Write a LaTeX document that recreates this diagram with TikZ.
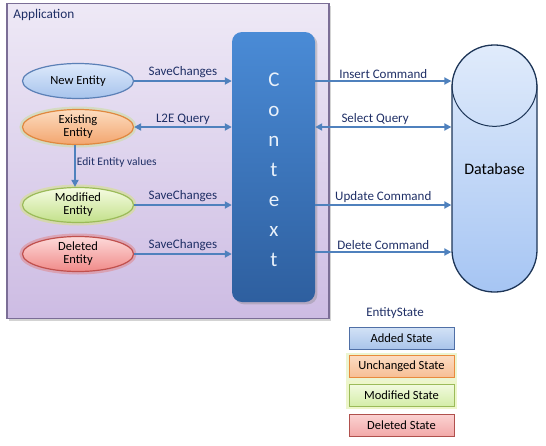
\documentclass[tikz,border=0pt]{standalone}
\usepackage{fontspec}
\setmainfont{Carlito}
\usetikzlibrary{arrows.meta,shapes.geometric,positioning,shadows}

\definecolor{arrowblue}{HTML}{4F81BD}
\definecolor{labelnavy}{HTML}{1F2F66}
\definecolor{appline}{HTML}{7B6E96}
\definecolor{apptop}{HTML}{EEE9F6}
\definecolor{appbot}{HTML}{CDBCE3}
\definecolor{ctxtop}{HTML}{4A8BD6}
\definecolor{ctxbot}{HTML}{2E5F9F}
\definecolor{dbtop}{HTML}{E0EBFB}
\definecolor{dbbot}{HTML}{A6C5F3}
\definecolor{dbline}{HTML}{1D3557}
% entity colours
\definecolor{newline}{HTML}{5B80B6}
\definecolor{newtop}{HTML}{DDE9FB}
\definecolor{newbot}{HTML}{A6C3EC}
\definecolor{exline}{HTML}{E0883F}
\definecolor{exglow}{HTML}{C6DE8A}
\definecolor{extop}{HTML}{FCDCC0}
\definecolor{exbot}{HTML}{F3A56E}
\definecolor{modline}{HTML}{9BBB59}
\definecolor{modglow}{HTML}{D4E86A}
\definecolor{modtop}{HTML}{F6FCE2}
\definecolor{modbot}{HTML}{C2E08A}
\definecolor{delline}{HTML}{C0504D}
\definecolor{delglow}{HTML}{E27A78}
\definecolor{deltop}{HTML}{FDDADA}
\definecolor{delbot}{HTML}{F08A88}
% legend colours
\definecolor{addline}{HTML}{4F6FA6}
\definecolor{addtop}{HTML}{D3E2F6}
\definecolor{addbot}{HTML}{A9C4EA}
\definecolor{unline}{HTML}{E98A3C}
\definecolor{unglow}{HTML}{D4E89A}
\definecolor{untop}{HTML}{FCDCC2}
\definecolor{unbot}{HTML}{F7BE94}
\definecolor{msline}{HTML}{9BBB59}
\definecolor{msglow}{HTML}{D8EC8A}
\definecolor{mstop}{HTML}{F2FADF}
\definecolor{msbot}{HTML}{D4EDA8}
\definecolor{dsline}{HTML}{B0504D}
\definecolor{dstop}{HTML}{FBD3D3}
\definecolor{dsbot}{HTML}{F2A9A8}

\tikzset{
  entity/.style={ellipse, draw=#1, line width=1.2pt, minimum width=111pt,
    minimum height=35pt, inner sep=0pt, align=center,
    font=\fontsize{12.5}{13}\selectfont},
  glow/.style={preaction={draw=#1, line width=6pt, draw opacity=0.45}},
  flow/.style={-{Triangle[length=7pt,width=7pt]}, arrowblue, line width=1.8pt},
  both/.style={{Triangle[length=7pt,width=7pt]}-{Triangle[length=7pt,width=7pt]},
    arrowblue, line width=1.8pt},
  lbl/.style={text=labelnavy, font=\fontsize{13}{14}\selectfont, above, inner sep=2pt},
  statebox/.style={rectangle, draw=#1, line width=1pt, minimum width=105pt,
    minimum height=22pt, inner sep=0pt, font=\fontsize{12.5}{13}\selectfont}
}

\begin{document}
\begin{tikzpicture}[x=1pt,y=-1pt]
  \useasboundingbox (0,0) rectangle (546,445);

  % application frame
  \node[rectangle, draw=appline, line width=1.5pt, top color=apptop, bottom color=appbot,
    minimum width=322pt, minimum height=315pt, drop shadow={opacity=0.35}] (app) at (168,161) {};
  \node[anchor=north west, text=labelnavy, font=\fontsize{13.3}{14}\selectfont, inner sep=0pt]
    (applbl) at ([xshift=7pt,yshift=-6pt]app.north west) {Application};

  % context
  \node[rectangle, rounded corners=10pt, top color=ctxtop, bottom color=ctxbot,
    minimum width=83pt, minimum height=270pt, drop shadow={opacity=0.35}] (ctx) at (273.5,167) {};
  \node[text=white!88!ctxtop, align=center, font=\fontsize{21}{30}\selectfont]
    (ctxlbl) at (274,170) {C\\o\\n\\t\\e\\x\\t};

  % entities
  \node[entity=newline, top color=newtop, bottom color=newbot] (new) at (78,81) {New Entity};
  \node[entity=exline, glow=exglow, top color=extop, bottom color=exbot] (exist) at (78,127) {Existing\\Entity};
  \node[entity=modline, glow=modglow, top color=modtop, bottom color=modbot] (mod) at (78,205) {Modified\\Entity};
  \node[entity=delline, glow=delglow, top color=deltop, bottom color=delbot] (del) at (78,254) {Deleted\\Entity};

  % database
  \node[rectangle, rounded corners=42pt, draw=dbline, line width=1.3pt, top color=dbtop,
    bottom color=dbbot, minimum width=85pt, minimum height=247pt,
    font=\fontsize{16}{17}\selectfont] (db) at (494.5,168.5) {Database};
  \coordinate (dbcap) at ([yshift=-41pt]db.north);
  \draw[dbline, line width=1pt] ([xshift=-42.5pt]dbcap)
    arc[start angle=180, end angle=360, x radius=42.5pt, y radius=41pt];

  % application side
  \draw[flow] (new.east) -- (new.east -| ctx.west) node[lbl, midway] {SaveChanges};
  \draw[both] (exist.east) -- (exist.east -| ctx.west) node[lbl, midway] {L2E Query};
  \draw[flow] ([xshift=-3pt]exist.south) -- ([xshift=-3pt]mod.north)
    node[pos=0.42, right, inner sep=1pt, text=labelnavy, font=\fontsize{11.5}{12}\selectfont] {Edit Entity values};
  \draw[flow] (mod.east) -- (mod.east -| ctx.west) node[lbl, midway] {SaveChanges};
  \draw[flow] (del.east) -- (del.east -| ctx.west) node[lbl, midway] {SaveChanges};

  % database side
  \draw[flow] (ctx.east |- new) -- (db.west |- new) node[lbl, midway] {Insert Command};
  \draw[both] (ctx.east |- exist) -- (db.west |- exist) node[lbl, pos=0.44] {Select Query};
  \draw[flow] (ctx.east |- mod) -- (db.west |- mod) node[lbl, midway] {Update Command};
  \draw[flow] ([yshift=2pt]ctx.east |- del) -- ([yshift=2pt]db.west |- del) node[lbl, midway] {Delete Command};

  % legend
  \node[text=labelnavy, font=\fontsize{13}{14}\selectfont] (legend) at (395,313) {EntityState};
  \node[statebox=addline, top color=addtop, bottom color=addbot] (added) at (401.5,338) {Added State};
  \node[statebox=unline, glow=unglow, top color=untop, bottom color=unbot] (unch) at (401.5,366.5) {Unchanged State};
  \node[statebox=msline, glow=msglow, top color=mstop, bottom color=msbot] (modst) at (401.5,395) {Modified State};
  \node[statebox=dsline, top color=dstop, bottom color=dsbot] (delst) at (401.5,425) {Deleted State};
\end{tikzpicture}
\end{document}
